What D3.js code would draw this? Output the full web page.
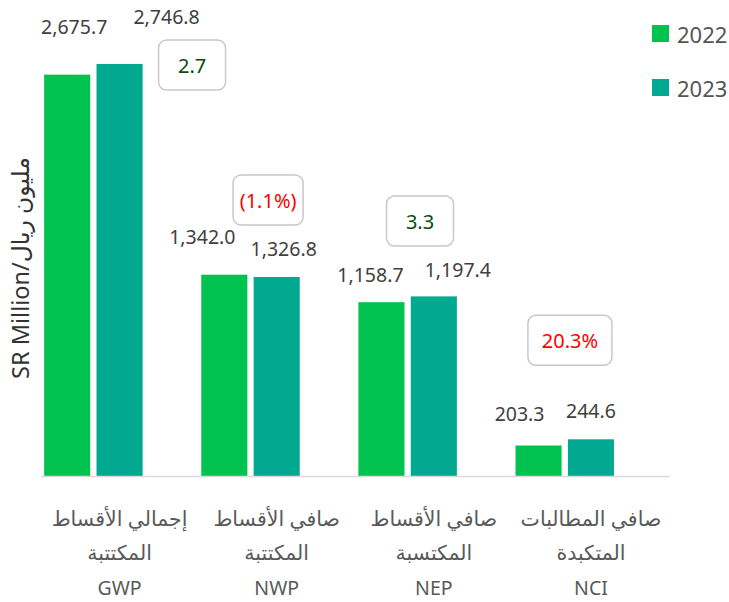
<!DOCTYPE html>
<html>
<head>
<meta charset="utf-8">
<script src="https://cdn.jsdelivr.net/npm/d3@7"></script>
<style>
  body { margin: 0; background: #fff; }
  text { font-family: "Noto Sans", "DejaVu Sans", sans-serif; }
</style>
</head>
<body>
<div id="chart"></div>
<script>
// data
const categories = ['GWP', 'NWP', 'NEP', 'NCI'];
const arabicLine1 = ['إجمالي الأقساط', 'صافي الأقساط', 'صافي الأقساط', 'صافي المطالبات'];
const arabicLine2 = ['المكتتبة', 'المكتتبة', 'المكتسبة', 'المتكبدة'];
const years = ['2022', '2023'];
const values2022 = [2675.7, 1342.0, 1158.7, 203.3];
const values2023 = [2746.8, 1326.8, 1197.4, 244.6];
const changeLabels = ['2.7', '(1.1%)', '3.3', '20.3%'];
const changeNegative = [false, true, false, true];

// manual label placement (dx from bar centre, dy above bar top)
const labelOffsets = [
  [[7, -48], [47, -47]],
  [[-22, -38], [7, -28]],
  [[-11, -28], [24, -27]],
  [[-19, -32], [0, -29]]
];
// change boxes: dx from category centre, y centre in value units
const boxOffsets = [[72.5, 2740], [-8.6, 1840], [-13.8, 1700], [-21, 905]];

const colors = { '2022': '#00c24e', '2023': '#00a98f' };

const width = 729, height = 602;
const svg = d3.select('#chart').append('svg')
  .attr('width', width)
  .attr('height', height);

const x0 = d3.scaleBand()
  .domain(categories)
  .range([41, 669.5]);

const x1 = d3.scaleBand()
  .domain(['2022', '2023', 'gap'])
  .range([0, x0.bandwidth()])
  .paddingInner(0.12)
  .paddingOuter(0.06);

const y = d3.scaleLinear()
  .domain([0, 3000])
  .range([476, 26]);

const rows = categories.map((c, i) => ({
  cat: c,
  i: i,
  vals: [values2022[i], values2023[i]]
}));

// bars
const groups = svg.selectAll('.grp')
  .data(rows)
  .enter()
  .append('g')
  .attr('class', 'grp')
  .attr('transform', d => `translate(${x0(d.cat)},0)`);

groups.selectAll('rect')
  .data(d => d.vals.map((v, k) => ({ year: years[k], v: v, i: d.i, k: k })))
  .enter()
  .append('rect')
  .attr('x', d => x1(d.year))
  .attr('y', d => y(d.v))
  .attr('width', x1.bandwidth())
  .attr('height', d => y(0) - y(d.v))
  .style('fill', d => colors[d.year]);

groups.selectAll('.val')
  .data(d => d.vals.map((v, k) => ({ year: years[k], v: v, i: d.i, k: k })))
  .enter()
  .append('text')
  .attr('class', 'val')
  .attr('x', d => x1(d.year) + x1.bandwidth() / 2 + labelOffsets[d.i][d.k][0])
  .attr('y', d => y(d.v) + labelOffsets[d.i][d.k][1])
  .attr('text-anchor', 'middle')
  .attr('dominant-baseline', 'central')
  .style('font-size', '19.5px')
  .style('fill', '#404040')
  .text(d => d3.format(',.1f')(d.v));

// baseline
svg.append('line')
  .attr('x1', x0.range()[0])
  .attr('x2', x0.range()[1])
  .attr('y1', y(0) + 0.5)
  .attr('y2', y(0) + 0.5)
  .style('stroke', '#d9d9d9')
  .style('stroke-width', 1.5);

// change boxes
const box = svg.selectAll('.chg')
  .data(rows)
  .enter()
  .append('g')
  .attr('class', 'chg')
  .attr('transform', d => `translate(${x0(d.cat) + x0.bandwidth() / 2 + boxOffsets[d.i][0]},${y(boxOffsets[d.i][1])})`);

box.append('rect')
  .attr('x', d => (d.i === 3 ? -42 : d.i === 1 ? -35 : -33.5))
  .attr('y', -25)
  .attr('width', d => (d.i === 3 ? 84 : d.i === 1 ? 70 : 67))
  .attr('height', 50)
  .attr('rx', 8)
  .style('fill', '#fff')
  .style('stroke', '#c8c8c8')
  .style('stroke-width', 1.5);

box.append('text')
  .attr('x', 0)
  .attr('y', 0)
  .attr('text-anchor', 'middle')
  .attr('dominant-baseline', 'central')
  .style('font-size', '20px')
  .style('fill', d => (changeNegative[d.i] ? '#ff0000' : '#0b4a10'))
  .text(d => changeLabels[d.i]);

// category labels
const cat = svg.selectAll('.cat')
  .data(rows)
  .enter()
  .append('g')
  .attr('class', 'cat')
  .attr('transform', d => `translate(${x0(d.cat) + x0.bandwidth() / 2},0)`);

cat.append('text')
  .attr('y', 518)
  .style('font-size', '20.5px')
  .text(d => arabicLine1[d.i]);
cat.append('text')
  .attr('y', 552)
  .style('font-size', '20.5px')
  .text(d => arabicLine2[d.i]);
cat.append('text')
  .attr('y', 587)
  .style('font-size', '19.5px')
  .text(d => d.cat);
cat.selectAll('text')
  .attr('text-anchor', 'middle')
  .attr('dominant-baseline', 'central')
  .style('fill', '#595959');

// y axis title
svg.append('text')
  .attr('transform', 'translate(20,268) rotate(-90)')
  .attr('text-anchor', 'middle')
  .attr('dominant-baseline', 'central')
  .style('font-size', '23.5px')
  .style('fill', '#333')
  .text('SR Million/مليون ريال');

// legend
const legend = svg.selectAll('.legend')
  .data(years)
  .enter()
  .append('g')
  .attr('class', 'legend')
  .attr('transform', (d, i) => `translate(652, ${25 + i * 54})`);

legend.append('rect')
  .attr('width', 17)
  .attr('height', 17)
  .style('fill', d => colors[d]);

legend.append('text')
  .attr('x', 25)
  .attr('y', 8.5)
  .attr('dominant-baseline', 'central')
  .style('font-size', '22px')
  .style('fill', '#555')
  .text(d => d);
</script>
</body>
</html>
